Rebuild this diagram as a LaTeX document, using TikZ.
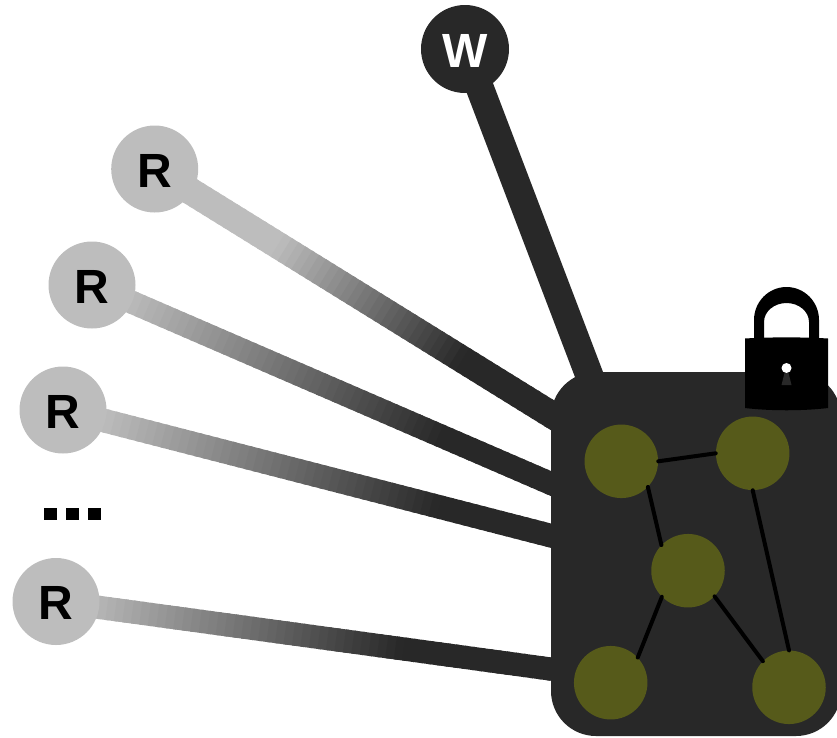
\documentclass[tikz,border=0pt]{standalone}
\usepackage{fontspec}
\setmainfont{Liberation Sans}
\usetikzlibrary{positioning,calc,backgrounds}
\definecolor{linkdark}{HTML}{282828}
\definecolor{linklight}{HTML}{BDBDBD}
\definecolor{vertexolive}{HTML}{565A1A}
\tikzset{>=latex}
\newcommand{\readerlink}[5]{%
  \begin{scope}[on background layer]
    \foreach \i in {0,...,59} {
      \pgfmathsetmacro{\tstart}{\i/60}
      \pgfmathsetmacro{\tstop}{(\i+1.4)/60}
      \pgfmathsetmacro{\mixpct}{max(0,min(100,100*(\tstart-#3)/(#4-#3)))}
      \draw[line width=#5,color=linkdark!\mixpct!linklight] ($(#1)!\tstart!(#2)$) -- ($(#1)!\tstop!(#2)$);
    }
  \end{scope}
}
\begin{document}
\begin{tikzpicture}[x=1pt,y=-1pt,
                    reader/.style={circle,fill=linklight,text=black,inner sep=0,minimum size=87pt,text height=36.5pt,font=\fontsize{48}{48}\selectfont\bfseries},
                    writer/.style={circle,fill=linkdark,text=white,inner sep=0,minimum size=88pt,text height=36.5pt,font=\fontsize{48}{48}\selectfont\bfseries},
                    vertex/.style={circle,fill=vertexolive,inner sep=0,minimum size=73.5pt},
                    store/.style={fill=linkdark,rounded corners=45pt,inner sep=0,minimum width=290pt,minimum height=364pt},
                    dotsq/.style={fill=black,inner sep=0,minimum size=12.5pt},
                    edgeline/.style={line width=4pt,line cap=round,black},
       ]
       \useasboundingbox (0,0) rectangle (837,737);
       \node[store] (store) at (696,554) {};
       \node[writer] (w) at (465,49) {W};
       \node[reader] (r1) at (154.7,169) {R};
       \node[reader] (r2) at (92,285) {R};
       \node[reader] (r3) at (63,410) {R};
       \node[reader] (r4) at (56,601.5) {R};
       \node[dotsq] (dot1) at (50.5,514) {};
       \node[dotsq] (dot2) at (72.5,514) {};
       \node[dotsq] (dot3) at (94.5,514) {};
       \coordinate (in1) at (565,423);
       \coordinate (in2) at (565,489.6);
       \coordinate (in3) at (565,539.3);
       \coordinate (in4) at (565,671);
       \coordinate (in5) at (598.7,400);
       \readerlink{r1.center}{in1}{0.29}{0.74}{27pt}
       \readerlink{r2.center}{in2}{0.06}{0.73}{23pt}
       \readerlink{r3.center}{in3}{0.07}{0.74}{23.6pt}
       \readerlink{r4.center}{in4}{0.04}{0.67}{23.2pt}
       \begin{scope}[on background layer]
           \draw[line width=28pt,linkdark] (w.center) -- (in5);
       \end{scope}
       \node[vertex] (v1) at (621.3,461.3) {};
       \node[vertex] (v2) at (752.7,453.3) {};
       \node[vertex] (v3) at (688,570.7) {};
       \node[vertex] (v4) at (610.7,682.7) {};
       \node[vertex] (v5) at (789,687.3) {};
       \draw[edgeline] (v1.0) -- (v2.180);
       \draw[edgeline] (v1.-44) -- (v3.136);
       \draw[edgeline] (v3.225) -- (v4.43);
       \draw[edgeline] (v3.-44) -- (v5.135);
       \draw[edgeline] (v2.270) -- (v5.90);
       % padlock
       \fill[black] (754,342) -- (754,320) arc[start angle=180,end angle=0,x radius=32.5pt,y radius=33pt] -- (819,342) -- (809,342) -- (809,322) arc[start angle=0,end angle=180,x radius=22.5pt,y radius=19pt] -- (764,342) -- cycle;
       \fill[black] (745,338.5) .. controls (770,337) and (803,337) .. (828,338.5) -- (828,408) .. controls (803,411) and (770,411) .. (745,408) -- cycle;
       \fill[white] (786.5,368) circle (5pt);
       \fill[linkdark] (784.5,373) -- (788.5,373) -- (791.5,385) -- (781.5,385) -- cycle;
    \end{tikzpicture}
\end{document}
